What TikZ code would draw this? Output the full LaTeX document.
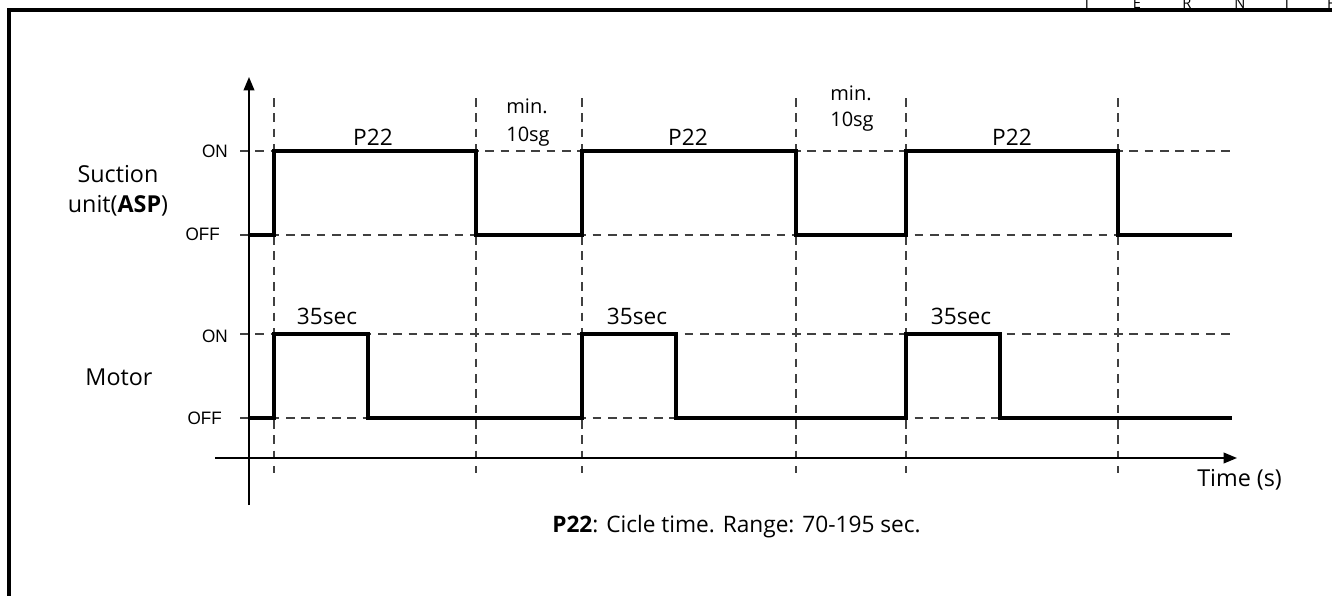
\documentclass[tikz,border=0pt]{standalone}
\usepackage{fontspec}
\setmainfont{Open Sans}
\newfontfamily\lvlfont[FakeStretch=0.95]{Liberation Sans}
\usetikzlibrary{arrows.meta}
\begin{document}
\begin{tikzpicture}[x=0.75pt,y=-0.75pt,
  frame/.style={line width=2.3pt},
  axis/.style={line width=1.2pt},
  sig/.style={line width=2.3pt,line join=miter},
  guide/.style={line width=0.8pt,draw=black!75,dash pattern=on 6.5pt off 5pt},
  lbl/.style={inner sep=0pt,anchor=base,font=\fontsize{17}{20}\selectfont},
  side/.style={inner sep=0pt,anchor=base,font=\fontsize{17.5}{21}\selectfont},
  minl/.style={inner sep=0pt,anchor=base,font=\fontsize{15}{18}\selectfont},
  lvl/.style={inner sep=0pt,anchor=base east,font=\lvlfont\fontsize{13.5}{16}\selectfont},
  hdr/.style={inner sep=0pt,anchor=base,font=\fontsize{11}{13}\selectfont},
  arr/.style={-{Triangle[length=10pt,width=8pt]}}]
\useasboundingbox (0,0) rectangle (1332,596);
\fill[white] (0,0) rectangle (1332,596);
% frame
\coordinate (fTR) at (1332,10);
\coordinate (fTL) at (9,10);
\coordinate (fBL) at (9,596);
\draw[frame] (fTR) -- (fTL) -- (fBL);
% cut-off header letters
\begin{scope}
\clip (0,0) rectangle (1332,8.5);
\foreach \x/\t/\n in {1087/I/h1,1137/E/h2,1187/R/h3,1240/N/h4,1287/I/h5,1331/F/h6}
  \node[hdr] (\n) at (\x,8) {\t};
\end{scope}
% levels
\def\sON{151}\def\sOFF{235}\def\mON{334}\def\mOFF{418}
% guides: horizontal
\foreach \y/\n in {151/gs1,235/gs0,334/gm1,418/gm0}{
  \coordinate (\n a) at (240,\y); \coordinate (\n b) at (1232,\y);
  \draw[guide] (\n a) -- (\n b);}
% guides: vertical
\foreach \x/\n in {274/v1,476/v2,582/v3,796/v4,906/v5,1118/v6}{
  \coordinate (\n a) at (\x,98); \coordinate (\n b) at (\x,473);
  \draw[guide] (\n a) -- (\n b);}
% axes
\coordinate (ya) at (249,505); \coordinate (yb) at (249,77);
\coordinate (xa) at (215,458); \coordinate (xb) at (1237,458);
\draw[axis,arr] (ya) -- (yb);
\draw[axis,arr] (xa) -- (xb);
% suction signal
\draw[sig] (249,\sOFF) -- (274,\sOFF) -- (274,\sON) -- (476,\sON) -- (476,\sOFF)
  -- (582,\sOFF) -- (582,\sON) -- (796,\sON) -- (796,\sOFF) -- (906,\sOFF)
  -- (906,\sON) -- (1118,\sON) -- (1118,\sOFF) -- (1232,\sOFF);
% motor signal
\draw[sig] (249,\mOFF) -- (274,\mOFF) -- (274,\mON) -- (368,\mON) -- (368,\mOFF)
  -- (582,\mOFF) -- (582,\mON) -- (676,\mON) -- (676,\mOFF) -- (906,\mOFF)
  -- (906,\mON) -- (1000,\mON) -- (1000,\mOFF) -- (1232,\mOFF);
% labels
\node[lbl] (p1) at (373,145) {P22};
\node[lbl] (p2) at (688,145) {P22};
\node[lbl] (p3) at (1012,145) {P22};
\node[minl] (m1a) at (527,113) {min.};
\node[minl] (m1b) at (528,141) {10sg};
\node[minl] (m2a) at (851,100) {min.};
\node[minl] (m2b) at (852,126) {10sg};
\node[lbl] (c1) at (327,324) {35sec};
\node[lbl] (c2) at (637,324) {35sec};
\node[lbl] (c3) at (961,324) {35sec};
\node[lvl] (on1) at (228,157) {ON};
\node[lvl] (off1) at (220,240) {OFF};
\node[lvl] (on2) at (228,342) {ON};
\node[lvl] (off2) at (222,424) {OFF};
\node[side] (su1) at (118,182) {Suction};
\node[side] (su2) at (118,212) {unit(\textbf{ASP})};
\node[side] (mo) at (119,385) {Motor};
\node[side,anchor=base west] (ti) at (1197,486) {Time (s)};
\node[lbl,anchor=base west] (note) at (552,532) {\textbf{P22}: Cicle time. Range: 70-195 sec.};
\end{tikzpicture}
\end{document}
